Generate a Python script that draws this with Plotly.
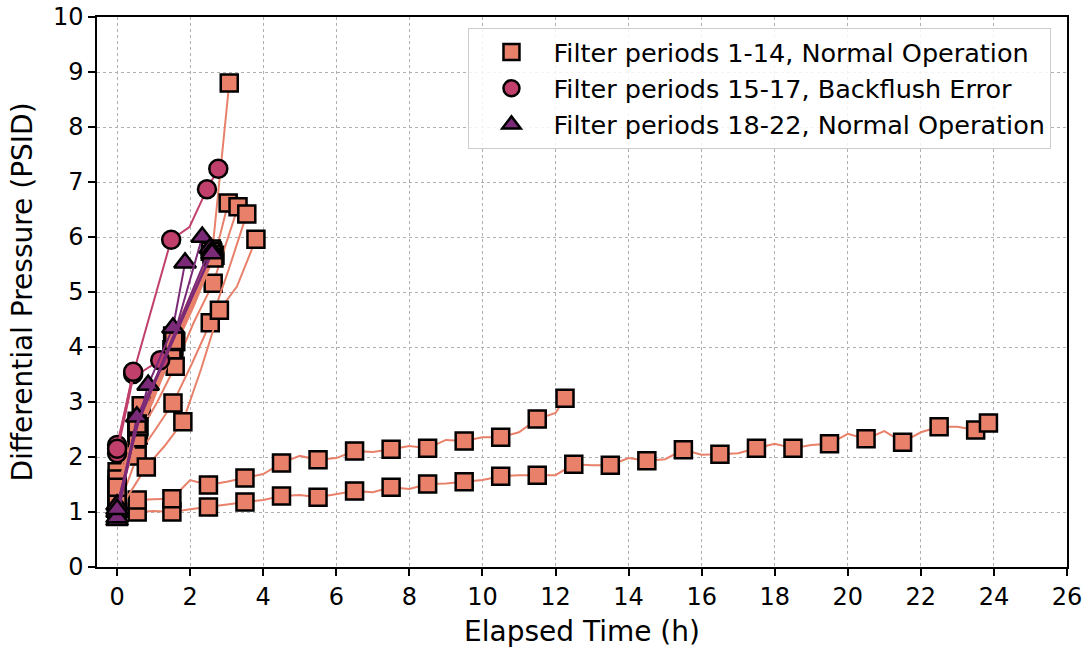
import plotly.graph_objects as go

# ---- Filter periods 1-14, normal operation (squares) ----
NORMAL_A_TIME = [
    [0, 0.55, 1.0, 1.5, 2.0, 2.5, 3.0, 3.5, 4.0, 4.5, 5.0, 5.5, 6.0, 6.5, 7.0, 7.5, 8.0,
     8.5, 9.0, 9.5, 10.0, 10.5, 11.0, 11.5, 12.0, 12.5, 13.0, 13.5, 14.0, 14.5, 15.0,
     15.5, 16.0, 16.5, 17.0, 17.5, 18.0, 18.5, 19.0, 19.5, 20.0, 20.5, 21.0, 21.5,
     22.0, 22.5, 23.0, 23.5, 23.85],
    [0, 0.55, 1.0, 1.5, 2.0, 2.5, 3.0, 3.5, 4.0, 4.5, 5.0, 5.5, 6.0, 6.5, 7.0, 7.5, 8.0,
     8.5, 9.0, 9.5, 10.0, 10.5, 11.0, 11.5, 12.0, 12.26],
    [0, 0.55, 1.05, 1.53, 2.05, 2.6, 3.07],
    [0, 0.66, 1.1, 1.6, 2.1, 2.68, 3.04],
    [0, 0.58, 1.1, 1.59, 2.1, 2.63, 3.31],
    [0, 0.55, 1.05, 1.53, 2.05, 2.55, 3.05, 3.55],
    [0, 0.8, 1.3, 1.8, 2.3, 2.8, 3.28, 3.8],
    [0, 0.55, 1.05, 1.55, 2.05, 2.6],
    [0, 0.55, 1.05, 1.55, 2.1, 2.62],
    [0, 0.55, 1.0, 1.52, 2.05, 2.58],
    [0, 0.55, 1.05, 1.55, 2.1, 2.65],
    [0, 0.55, 1.0, 1.5, 2.0, 2.55],
    [0, 0.6, 1.1, 1.6, 2.1, 2.6],
    [0, 0.55, 1.05, 1.55, 2.1, 2.65],
]
NORMAL_A_DP = [
    [0.95, 1.0, 1.02, 1.0, 1.05, 1.09, 1.14, 1.18, 1.22, 1.29, 1.31, 1.27, 1.32, 1.38,
     1.36, 1.45, 1.42, 1.51, 1.52, 1.55, 1.58, 1.65, 1.67, 1.67, 1.67, 1.87, 1.85, 1.85,
     1.98, 1.93, 1.96, 2.13, 2.04, 2.05, 2.07, 2.16, 2.24, 2.16, 2.22, 2.24, 2.42, 2.33,
     2.47, 2.27, 2.45, 2.55, 2.55, 2.49, 2.62],
    [1.12, 1.22, 1.23, 1.24, 1.58, 1.49, 1.55, 1.62, 1.69, 1.89, 2.02, 1.95, 1.98, 2.11,
     2.09, 2.14, 2.2, 2.16, 2.31, 2.29, 2.36, 2.36, 2.45, 2.69, 2.8, 3.07],
    [1.5, 2.55, 3.3, 4.07, 4.85, 5.7, 8.8],
    [1.73, 2.93, 3.45, 4.1, 4.9, 5.67, 6.62],
    [1.3, 2.4, 3.0, 3.65, 4.45, 5.16, 6.55],
    [1.02, 2.02, 2.5, 2.98, 3.7, 4.44, 5.4, 6.42],
    [0.98, 1.82, 2.2, 2.64, 3.6, 4.67, 5.1, 5.96],
    [1.6, 2.65, 3.35, 4.15, 4.95, 5.75],
    [1.4, 2.5, 3.2, 4.02, 4.8, 5.72],
    [1.2, 2.45, 3.3, 4.2, 5.0, 5.78],
    [1.35, 2.45, 3.15, 3.95, 4.75, 5.65],
    [1.15, 2.35, 3.05, 3.95, 4.85, 5.74],
    [1.25, 2.55, 3.3, 4.1, 4.85, 5.68],
    [1.45, 2.6, 3.4, 4.12, 4.95, 5.62],
]
# indices of the hourly readings shown with a marker
NORMAL_A_MARKED = [
    [0, 1] + list(range(3, 48, 2)) + [48],
    [0, 1] + list(range(3, 24, 2)) + [25],
    [0, 1, 3, 5, 6],
    [0, 1, 3, 5, 6],
    [0, 1, 3, 5, 6],
    [0, 1, 3, 5, 7],
    [0, 1, 3, 5, 7],
    [0, 1, 3, 5],
    [0, 1, 3, 5],
    [0, 1, 3, 5],
    [0, 1, 3, 5],
    [0, 1, 3, 5],
    [0, 1, 3, 5],
    [0, 1, 3, 5],
]

# ---- Filter periods 15-17, backflush error (circles) ----
BACKFLUSH_TIME = [
    [0, 0.44, 1.48, 1.98, 2.46, 2.77],
    [0, 0.44, 1.18],
    [0, 0.44],
]
BACKFLUSH_DP = [
    [2.22, 3.51, 5.95, 6.18, 6.87, 7.24],
    [2.07, 3.45, 3.76],
    [2.15, 3.55],
]
BACKFLUSH_MARKED = [
    [0, 1, 2, 4, 5],
    [0, 2],
    [0, 1],
]

# ---- Filter periods 18-22, normal operation (triangles) ----
NORMAL_B_TIME = [
    [0, 0.85, 1.53, 1.86],
    [0, 0.54, 1.1, 1.6, 2.33],
    [0, 0.55, 1.05, 1.55, 2.55],
    [0, 0.5, 1.0, 1.55, 2.6],
    [0, 0.5, 1.5, 2.6],
]
NORMAL_B_DP = [
    [1.13, 3.31, 4.35, 5.53],
    [0.85, 2.73, 3.5, 4.3, 6.0],
    [1.0, 2.6, 3.4, 4.2, 5.8],
    [0.9, 2.5, 3.3, 4.15, 5.75],
    [1.05, 2.55, 4.1, 5.7],
]
NORMAL_B_MARKED = [
    [0, 1, 2, 3],
    [0, 1, 4],
    [0, 4],
    [0, 4],
    [0, 3],
]

GROUPS = [
    ("Filter periods 1-14, Normal Operation", NORMAL_A_TIME, NORMAL_A_DP, NORMAL_A_MARKED,
     "#E8806A", "square", 17),
    ("Filter periods 15-17, Backflush Error", BACKFLUSH_TIME, BACKFLUSH_DP, BACKFLUSH_MARKED,
     "#C13F6B", "circle", 18),
    ("Filter periods 18-22, Normal Operation", NORMAL_B_TIME, NORMAL_B_DP, NORMAL_B_MARKED,
     "#7A2A77", "triangle-up", 19),
]

fig = go.Figure()
for name, times, dps, marked, color, symbol, size in GROUPS:
    for k, (t, p, m) in enumerate(zip(times, dps, marked)):
        fig.add_trace(go.Scatter(
            x=t, y=p, mode="lines", line=dict(color=color, width=2),
            showlegend=False, hoverinfo="skip"))
        fig.add_trace(go.Scatter(
            x=[t[i] for i in m], y=[p[i] for i in m], mode="markers",
            marker=dict(symbol=symbol, size=size, color=color,
                        line=dict(color="black", width=2.5)),
            name=name, showlegend=(k == 0)))

axis_common = dict(
    showline=True, mirror=True, linecolor="black", linewidth=1.5,
    ticks="outside", ticklen=7, tickwidth=1.5, tickcolor="black",
    showgrid=True, gridcolor="#b0b0b0", gridwidth=1, griddash="dot",
    zeroline=False, tickfont=dict(size=24, color="black"), automargin=False,
)

fig.update_xaxes(range=[-0.55, 26], tick0=0, dtick=2,
                 title=dict(text="Elapsed Time (h)", font=dict(size=28), standoff=12),
                 **axis_common)
fig.update_yaxes(range=[0, 10], tick0=0, dtick=1,
                 title=dict(text="Differential Pressure (PSID)", font=dict(size=28), standoff=12),
                 **axis_common)

fig.update_layout(
    width=1088, height=651,
    margin=dict(l=97, r=21, t=17, b=84),
    paper_bgcolor="white", plot_bgcolor="white",
    font=dict(family="DejaVu Sans", color="black"),
    legend=dict(x=0.984, y=0.98, xanchor="right", yanchor="top",
                bgcolor="rgba(255,255,255,0.85)", bordercolor="#cccccc", borderwidth=1,
                font=dict(size=25.5), itemsizing="trace", itemwidth=74, tracegroupgap=0),
)

fig.write_html("out.html")
